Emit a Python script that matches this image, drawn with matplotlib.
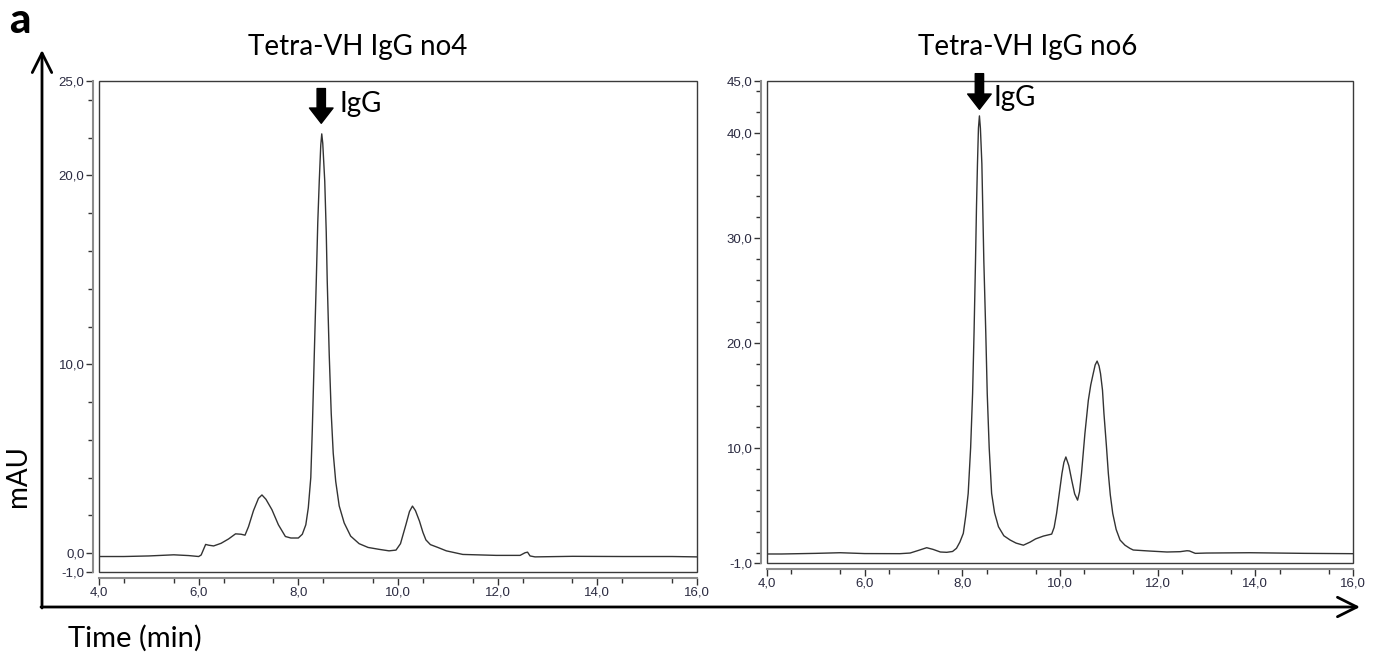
import matplotlib
matplotlib.use('Agg')
import matplotlib.pyplot as plt
from matplotlib.patches import Rectangle, FancyArrowPatch
from matplotlib.ticker import FixedLocator, NullFormatter

# chromatogram no4 (time in min, mAU)
t_no4 = [4.0, 4.5, 5.0, 5.5, 5.8, 6.0, 6.05, 6.14, 6.2, 6.3, 6.45, 6.6, 6.74, 6.85, 6.93,
         7.0, 7.1, 7.2, 7.27, 7.35, 7.47, 7.6, 7.74, 7.85, 8.0, 8.08, 8.15, 8.2, 8.25, 8.28,
         8.32, 8.36, 8.39, 8.42, 8.45, 8.47, 8.49, 8.53, 8.56, 8.58, 8.62, 8.66, 8.70, 8.75,
         8.82, 8.92, 9.05, 9.22, 9.4, 9.62, 9.82, 9.96, 10.05, 10.16, 10.23, 10.29, 10.35,
         10.43, 10.5, 10.56, 10.65, 10.8, 10.97, 11.3, 11.97, 12.45, 12.55, 12.6, 12.65,
         12.75, 13.5, 14.5, 15.5, 16.0]
mau_no4 = [-0.18, -0.18, -0.15, -0.09, -0.13, -0.18, -0.1, 0.46, 0.42, 0.38, 0.52, 0.75, 1.02, 1.0, 0.95,
           1.4, 2.25, 2.9, 3.08, 2.85, 2.3, 1.5, 0.88, 0.8, 0.8, 1.0, 1.5, 2.4, 4.0, 6.5,
           10.5, 14.4, 17.5, 19.7, 21.6, 22.2, 21.7, 19.7, 17.0, 14.4, 10.5, 7.4, 5.3, 3.8,
           2.5, 1.6, 0.9, 0.5, 0.3, 0.2, 0.12, 0.16, 0.5, 1.52, 2.2, 2.49, 2.25,
           1.7, 1.1, 0.7, 0.45, 0.3, 0.12, -0.07, -0.12, -0.12, 0.02, 0.05, -0.15,
           -0.2, -0.17, -0.18, -0.18, -0.2]

# chromatogram no6
t_no6 = [4.0, 4.3, 5.0, 5.5, 6.0, 6.72, 6.93, 7.1, 7.27, 7.4, 7.55, 7.68, 7.8, 7.88, 7.95,
         8.02, 8.07, 8.12, 8.17, 8.21, 8.24, 8.27, 8.29, 8.31, 8.33, 8.35, 8.37, 8.40, 8.42,
         8.44, 8.48, 8.51, 8.55, 8.60, 8.66, 8.74, 8.85, 8.98, 9.1, 9.25, 9.39, 9.5, 9.66,
         9.83, 9.88, 9.93, 10.04, 10.08, 10.12, 10.18, 10.24, 10.30, 10.36, 10.40, 10.44,
         10.51, 10.58, 10.63, 10.68, 10.72, 10.76, 10.80, 10.83, 10.87, 10.90, 10.95, 10.99,
         11.03, 11.08, 11.15, 11.23, 11.33, 11.43, 11.5, 11.84, 12.19, 12.46, 12.6, 12.65,
         12.77, 13.0, 13.89, 15.0, 16.0]
mau_no6 = [-0.14, -0.14, -0.08, -0.02, -0.1, -0.11, -0.05, 0.2, 0.46, 0.3, 0.05, 0.02, 0.1, 0.4, 1.0,
           1.83, 3.5, 5.64, 10.0, 15.16, 21.0, 27.86, 33.0, 37.1, 40.5, 41.67, 40.5, 37.1, 32.5,
           27.86, 21.0, 15.16, 10.0, 5.64, 3.8, 2.46, 1.6, 1.19, 0.9, 0.7, 1.0, 1.3, 1.57,
           1.76, 2.4, 3.73, 7.54, 8.6, 9.12, 8.3, 6.9, 5.6, 5.0, 5.8, 7.54,
           11.35, 14.52, 16.0, 17.07, 17.9, 18.27, 17.8, 17.07, 15.5, 13.26, 10.2, 7.54,
           5.5, 3.73, 2.2, 1.19, 0.7, 0.4, 0.24, 0.14, 0.05, 0.08, 0.17, 0.15,
           -0.08, -0.05, -0.02, -0.08, -0.11]

titles = ['Tetra-VH IgG no4', 'Tetra-VH IgG no6']
x_major = [4, 6, 8, 10, 12, 14, 16]
x_labels = ['4,0', '6,0', '8,0', '10,0', '12,0', '14,0', '16,0']
y4_major = [-1, 0, 10, 20, 25]
y4_labels = ['-1,0', '0,0', '10,0', '20,0', '25,0']
y6_major = [-1, 10, 20, 30, 40, 45]
y6_labels = ['-1,0', '10,0', '20,0', '30,0', '40,0', '45,0']

W, H = 1381, 662
fig = plt.figure(figsize=(W / 100, H / 100), dpi=100)
font = ['Lato', 'DejaVu Sans']
tickfont = ['Liberation Sans', 'DejaVu Sans']


def setup(ax, ymin, ymax, ymaj, ylab):
    ax.set_xlim(4, 16)
    ax.set_ylim(ymin, ymax)
    for s in ['top', 'right']:
        ax.spines[s].set_visible(False)
    for s in ['left', 'bottom']:
        ax.spines[s].set_position(('outward', 4))
        ax.spines[s].set_color('#8c8c8c')
        ax.spines[s].set_linewidth(1.5)
    ax.add_patch(Rectangle((0, 0), 1, 1, transform=ax.transAxes, fill=False,
                           ec='#3a3a3a', lw=1.0, clip_on=False, zorder=3))
    ax.xaxis.set_major_locator(FixedLocator(x_major))
    ax.set_xticklabels(x_labels)
    ax.xaxis.set_minor_locator(FixedLocator([v / 2 for v in range(9, 32, 2)]))
    ax.yaxis.set_major_locator(FixedLocator(ymaj))
    ax.set_yticklabels(ylab)
    ax.yaxis.set_minor_locator(FixedLocator([v for v in range(0, int(ymax), 2) if v not in ymaj]))
    ax.xaxis.set_minor_formatter(NullFormatter())
    ax.tick_params(which='major', length=5, width=1, color='#333333', pad=1.5,
                   labelsize=9.5, labelcolor='#2a2a40')
    ax.tick_params(which='minor', length=3.5, width=1, color='#333333')
    for lab in ax.get_xticklabels() + ax.get_yticklabels():
        lab.set_family(tickfont)


ax1 = fig.add_axes([99 / W, 1 - 572 / H, (697 - 99) / W, (572 - 81) / H])
setup(ax1, -1, 25, y4_major, y4_labels)
ax1.plot(t_no4, mau_no4, color='#333333', lw=1.0)

ax2 = fig.add_axes([767 / W, 1 - 563 / H, (1353 - 767) / W, (563 - 81) / H])
setup(ax2, -1, 45, y6_major, y6_labels)
ax2.plot(t_no6, mau_no6, color='#333333', lw=1.0)

# IgG markers
arrow = dict(arrowstyle='simple,head_length=1.1,head_width=1.7,tail_width=0.6',
             fc='black', ec='black', shrinkA=0, shrinkB=0, mutation_scale=10)
ax1.annotate('', xy=(8.46, 22.76), xytext=(8.46, 24.6), arrowprops=arrow, annotation_clip=False)
ax1.text(8.82, 23.34, 'IgG', family=font, size=20, va='baseline', ha='left')
ax2.annotate('', xy=(8.35, 42.3), xytext=(8.35, 45.7), arrowprops=arrow, annotation_clip=False)
ax2.text(8.63, 42.6, 'IgG', family=font, size=20, va='baseline', ha='left')

fig.text(358 / W, 1 - 55 / H, titles[0], family=font, size=20, ha='center', va='baseline')
fig.text(1028 / W, 1 - 55 / H, titles[1], family=font, size=20, ha='center', va='baseline')
fig.text(9 / W, 1 - 33 / H, 'a', family=font, size=30, fontweight='black', ha='left', va='baseline')
fig.text(18 / W, 1 - 476 / H, 'mAU', family=font, size=20, rotation=90, ha='center', va='center')
fig.text(135 / W, 1 - 638 / H, 'Time (min)', family=font, size=21, ha='center', va='center')

# big axis arrows
fig.add_artist(FancyArrowPatch((42 / W, 1 - 608 / H), (42 / W, 1 - 50 / H), transform=fig.transFigure,
                               arrowstyle='->,head_length=14,head_width=7', mutation_scale=1,
                               lw=2, color='black', shrinkA=0, shrinkB=0))
fig.add_artist(FancyArrowPatch((41 / W, 1 - 607 / H), (1360 / W, 1 - 607 / H), transform=fig.transFigure,
                               arrowstyle='->,head_length=14,head_width=7', mutation_scale=1,
                               lw=2, color='black', shrinkA=0, shrinkB=0))

plt.savefig('out.png', dpi=100)
